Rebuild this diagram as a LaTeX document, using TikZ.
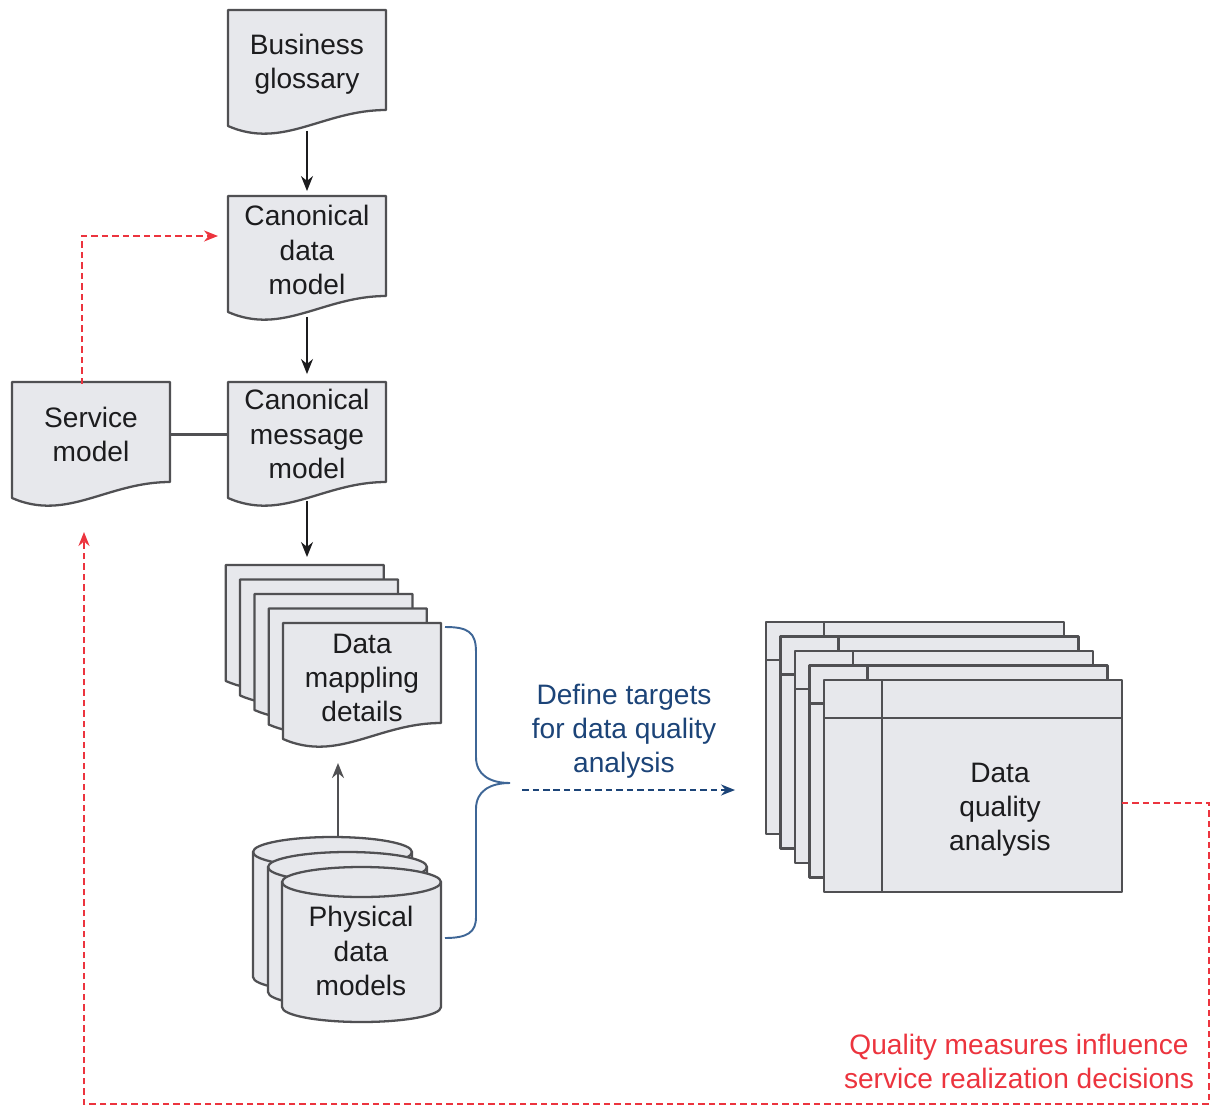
\documentclass[tikz,border=0pt]{standalone}
\usepackage{fontspec}
\setmainfont{Liberation Sans}
\usetikzlibrary{arrows.meta,calc}
\definecolor{boxgray}{RGB}{80,80,83}
\definecolor{boxfill}{RGB}{231,232,236}
\definecolor{txtdark}{RGB}{28,28,30}
\definecolor{redline}{RGB}{236,52,62}
\definecolor{navy}{RGB}{28,68,120}
\definecolor{bracecol}{RGB}{62,102,150}
\tikzstyle{sheet} = [draw=boxgray, fill=boxfill, line width=1.3pt, line join=round]
\tikzstyle{doctext} = [inner sep=0pt, outer sep=0pt, minimum width=3.16cm, minimum height=2cm, align=center, text=txtdark]
\tikzstyle{tablesheet} = [sheet, inner sep=0pt, outer sep=0pt, minimum width=5.96cm, minimum height=4.24cm,
	path picture={
		\draw[boxgray, line width=1.3pt] ([xshift=1.16cm]path picture bounding box.north west) -- ([xshift=1.16cm]path picture bounding box.south west);
		\draw[boxgray, line width=1.3pt] ([yshift=-0.76cm]path picture bounding box.north west) -- ([yshift=-0.76cm]path picture bounding box.north east);
	}]
\tikzstyle{flow} = [draw=txtdark, line width=0.9pt, -{Stealth[length=0.3cm, width=0.24cm]}]
\tikzstyle{redflow} = [draw=redline, line width=1.1pt, dash pattern=on 0.13cm off 0.08cm, -{Stealth[length=0.28cm, width=0.22cm]}]
\tikzstyle{blueflow} = [draw=navy, line width=1.1pt, dash pattern=on 0.13cm off 0.08cm, -{Stealth[length=0.28cm, width=0.22cm]}]
% document sheet with wavy bottom, top left corner given in pixels
\newcommand{\docsheet}[2]{\filldraw[sheet] (#1,#2) -- ++(158,0) -- ++(0,100) .. controls +(-63,0) and +(55,24) .. ++(-158,16) -- cycle;}
% cylinder, left point of top ellipse given in pixels
\newcommand{\cylsheet}[2]{%
	\filldraw[sheet] (#1,#2) -- ++(0,125) arc[start angle=180, end angle=0, x radius=79.5, y radius=15] -- ++(0,-125) arc[start angle=0, end angle=-180, x radius=79.5, y radius=15] -- cycle;
	\draw[sheet, fill=none] (#1,#2) arc[start angle=180, end angle=0, x radius=79.5, y radius=15];}
\begin{document}
\begin{tikzpicture}[x=0.02cm, y=-0.02cm, font=\fontsize{16}{19.4}\selectfont]
	\useasboundingbox (0,0) rectangle (1211,1106);

	% MODEL DOCUMENTS
	\docsheet{228}{10}
	\node[doctext] (gloss) at (307,64) {Business\\glossary};
	\docsheet{228}{196}
	\node[doctext] (cdm) at (307,250) {Canonical\\data\\model};
	\docsheet{228}{382}
	\node[doctext] (cmm) at (307,434) {Canonical\\message\\model};
	\docsheet{12}{382}
	\node[doctext] (svc) at (91,434) {Service\\model};

	% MAPPING STACK
	\foreach \k in {4,3,2,1} {
		\docsheet{283-14.3*\k}{623-14.5*\k}
		\coordinate (map\k) at (283-14.3*\k,623-14.5*\k);
	}
	\docsheet{283}{623}
	\node[doctext] (map) at (362,678) {Data\\mappling\\details};

	% PHYSICAL MODELS
	\cylsheet{253}{852}
	\cylsheet{268}{867}
	\cylsheet{282}{882}
	\node[doctext, minimum height=3.1cm] (phys) at (361,951) {Physical\\data\\models};
	\coordinate (physTop) at (338,837);

	% QUALITY ANALYSIS
	\foreach \k in {4,3,2,1}
		\node[tablesheet] (dqa\k) at (973-14.5*\k,786-14.5*\k) {};
	\node[tablesheet] (dqa) at (973,786) {};
	\node[doctext, minimum width=0pt, minimum height=0pt] (dqatext) at (1000,810) {Data\\quality\\analysis};

	% FLOWS
	\draw[flow, shorten <=0.34cm, shorten >=0.18cm] (gloss.south) -- (cdm.north);
	\draw[flow, shorten <=0.34cm, shorten >=0.2cm] (cdm.south) -- (cmm.north);
	\draw[flow, shorten <=0.34cm, shorten >=0.16cm] (cmm.south) -- (cmm.south |- map4);
	\draw[flow, draw=boxgray, line width=1.3pt, shorten >=0.7cm] (physTop) -- (physTop |- map.south);
	\draw[draw=boxgray, line width=1.7pt] (svc.east) -- (cmm.west);

	% BRACE
	\coordinate (braceTop) at (445,627);
	\coordinate (braceTip) at (510,783);
	\coordinate (braceBot) at (445,938);
	\draw[bracecol, line width=1.1pt] (braceTop) .. controls (468,627) and (476,632) .. (476,652) -- (476,757)
		.. controls (476,775) and (490,783) .. (braceTip) .. controls (490,783) and (476,791) .. (476,809)
		-- (476,917) .. controls (476,932) and (468,938) .. (braceBot);
	\coordinate (blueStart) at (522,790);
	\draw[blueflow, shorten >=0.62cm] (blueStart) -- (blueStart -| dqa4.west);
	\node[align=center, text=navy] (target) at (624,731) {Define targets\\for data quality\\analysis};

	% FEEDBACK
	\draw[redflow, shorten >=0.2cm] ([xshift=-0.18cm]svc.north) |- ([yshift=0.28cm]cdm.west);
	\coordinate (loopR) at (1209,1104);
	\draw[redflow] ([yshift=-0.34cm]dqa.east) -| (loopR) -| ([xshift=-0.14cm, yshift=-0.96cm]svc.south);
	\node[align=center, text=redline] (quality) at (1019,1061) {Quality measures influence\\service realization decisions};
\end{tikzpicture}
\end{document}
